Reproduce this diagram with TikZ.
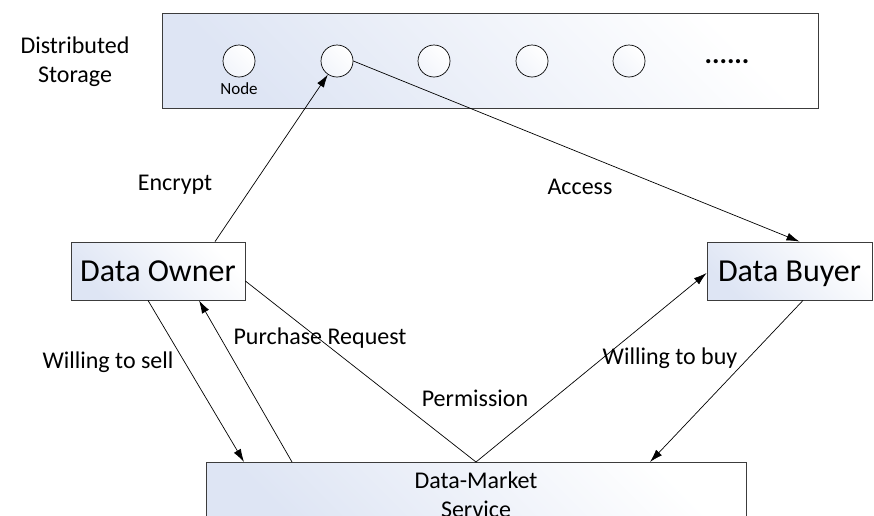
\documentclass[tikz,border=0pt]{standalone}
\usepackage{fontspec}
\setmainfont{Carlito}
\usetikzlibrary{arrows.meta}
\definecolor{boxblue}{RGB}{222,229,244}
\definecolor{boxline}{RGB}{60,60,60}
\tikzset{
  box/.style={draw=boxline,line width=0.8pt,left color=boxblue,right color=white,shading angle=135,inner sep=0pt},
  stnode/.style={circle,draw=black,line width=0.7pt,minimum size=32pt,left color=boxblue!40,right color=white,shading angle=135,inner sep=0pt},
  conn/.style={line width=0.7pt},
  arr/.style={conn,-{Latex[length=13pt,width=8pt]}},
  lbl/.style={font=\fontsize{24}{29}\selectfont,inner sep=0pt,align=center},
  big/.style={font=\fontsize{32}{38}\selectfont,text height=27pt,text depth=7pt}
}
\begin{document}
\begin{tikzpicture}[x=1pt,y=-1pt]
\useasboundingbox (0,0) rectangle (874,515);
% storage
\node [box,minimum width=656pt,minimum height=95pt] (store) at (490,60.5) {};
\node [lbl] (storeL) at (75,62) {Distributed\\Storage};
\foreach \i/\x in {1/239,2/337,3/434,4/532,5/629}
  \node [stnode] (n\i) at (\x,61) {};
\node [lbl,font=\fontsize{17}{20}\selectfont] (nodeL) at (239,89) {Node};
\node [lbl,font=\fontsize{28}{30}\selectfont\bfseries] (dots) at (727,62) {......};
% parties
\node [box,big,minimum width=174pt,minimum height=58pt] (owner) at (158,271) {Data Owner};
\node [box,big,minimum width=165pt,minimum height=58pt] (buyer) at (789.5,271) {Data Buyer};
\node [box,lbl,minimum width=540pt,minimum height=64pt,anchor=north] (market) at (476,462) {Data-Market\\Service};
% arrows
\draw [arr] ([xshift=57pt]owner.north) -- (n2);
\node [lbl] (encL) at (175,185) {Encrypt};
\draw [arr] (n2.east) -- ([xshift=10pt]buyer.north);
\node [lbl] (accL) at (580,187) {Access};
\draw [arr] ([xshift=-10pt]owner.south) -- ([xshift=-232pt]market.north);
\node [lbl] (sellL) at (108,362) {Willing to sell};
\draw [arr] ([xshift=-184pt]market.north) -- ([xshift=41pt]owner.south);
\node [lbl] (reqL) at (320,338) {Purchase Request};
\draw [conn] ([yshift=-10pt]owner.east) -- (market.north);
\draw [arr] (market.north) -- ([yshift=-2pt]buyer.west);
\node [lbl] (permL) at (475,398) {Permission};
\draw [arr] ([xshift=13.5pt]buyer.south) -- ([xshift=174pt]market.north);
\node [lbl] (buyL) at (670,358) {Willing to buy};
\end{tikzpicture}
\end{document}
